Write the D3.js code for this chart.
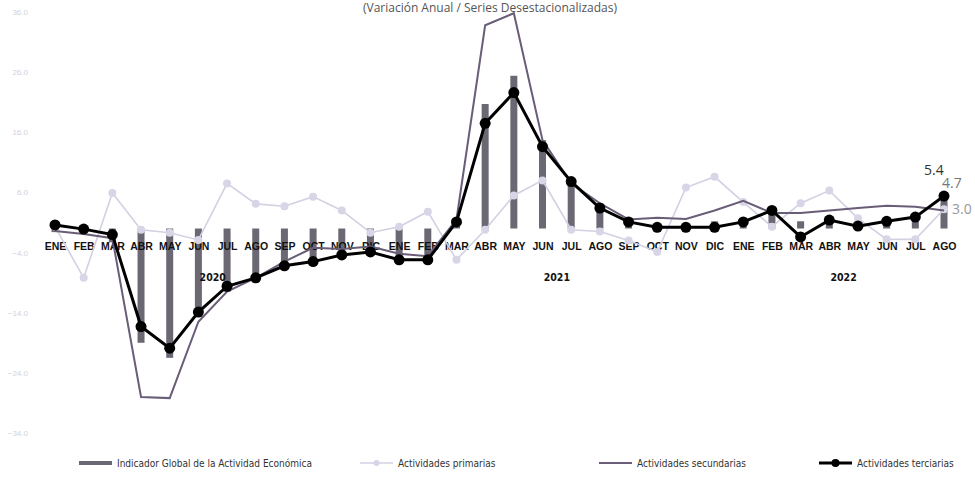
<!DOCTYPE html>
<html>
<head>
<meta charset="utf-8">
<script src="https://cdn.jsdelivr.net/npm/d3@7"></script>
<style>
  body { margin: 0; background: #fff; }
  svg { display: block; font-family: 'Liberation Sans Narrow', 'DejaVu Sans Condensed', sans-serif; }
</style>
</head>
<body>
<div class="chart"></div>
<script>
// meses ENE 2020 - AGO 2022
const meses = ["ENE","FEB","MAR","ABR","MAY","JUN","JUL","AGO","SEP","OCT","NOV","DIC",
               "ENE","FEB","MAR","ABR","MAY","JUN","JUL","AGO","SEP","OCT","NOV","DIC",
               "ENE","FEB","MAR","ABR","MAY","JUN","JUL","AGO"];
const anios = [{ label: "2020", from: 0, to: 11 }, { label: "2021", from: 12, to: 23 }, { label: "2022", from: 24, to: 31 }];

const igae = [-0.6, -0.3, -2.3, -19.0, -21.5, -14.7, -10.5, -9.0, -6.9, -5.6, -4.6, -3.6,
              -4.9, -4.8, 1.0, 20.7, 25.4, 14.7, 8.0, 4.2, 1.0, 0.6, 0.9, 1.2,
              1.6, 2.6, 1.2, 1.7, 1.2, 1.8, 2.0, 4.7];
const primarias = [0.3, -8.2, 5.9, -0.2, -0.7, -1.9, 7.5, 4.1, 3.7, 5.3, 3.0, -0.7,
                   0.3, 2.8, -5.2, -0.2, 5.5, 8.0, -0.2, -0.5, -2.0, -3.9, 6.8, 8.6,
                   4.4, 0.3, 4.2, 6.3, 1.7, -1.8, -1.8, 3.2];
const secundarias = [-0.4, -0.9, -1.6, -28.0, -28.2, -15.5, -10.5, -8.2, -5.5, -3.2, -3.4, -3.0,
                     -4.2, -4.6, 1.5, 33.8, 35.8, 14.7, 7.5, 4.2, 1.5, 1.8, 1.6, 3.0,
                     4.6, 2.6, 2.6, 3.0, 3.4, 3.8, 3.6, 3.0];
const terciarias = [0.6, -0.1, -1.0, -16.3, -19.9, -13.9, -9.6, -8.2, -6.2, -5.5, -4.4, -3.9,
                    -5.2, -5.2, 1.1, 17.5, 22.6, 13.6, 7.8, 3.4, 1.1, 0.2, 0.2, 0.2,
                    1.1, 3.0, -1.4, 1.4, 0.4, 1.2, 1.9, 5.4];
const yTicks = [-34, -24, -14, -4, 6, 16, 26, 36];

const width = 975, height = 478;
const svg = d3.select(".chart").append("svg")
    .attr("width", width)
    .attr("height", height);

const keys = meses.map((m, i) => i);
const x = d3.scalePoint().domain(keys).range([55, 944]);
const y = d3.scaleLinear().domain([-34, 36]).range([433, 12]);

// titulo
svg.append("text")
    .attr("x", 490).attr("y", 12)
    .attr("text-anchor", "middle")
    .attr("font-family", "'Open Sans', sans-serif")
    .attr("font-size", 12)
    .attr("fill", "#555")
    .text("(Variación Anual / Series Desestacionalizadas)");

// eje y (etiquetas muy tenues)
const yAxis = svg.append("g")
    .attr("transform", "translate(30,0)")
    .call(d3.axisLeft(y).tickValues(yTicks).tickSize(0).tickPadding(2).tickFormat(d3.format(".1f")));
yAxis.select(".domain").remove();
yAxis.selectAll("text").attr("fill", "#d2d2d8").attr("font-size", 8);

// barras IGAE
svg.selectAll(".bar")
    .data(igae)
    .enter()
    .append("rect")
    .attr("class", "bar")
    .attr("x", (d, i) => x(i) - 3.5)
    .attr("y", d => y(Math.max(0, d)))
    .attr("width", 7)
    .attr("height", d => Math.abs(y(d) - y(0)))
    .attr("fill", "#6c6873");

// meses sobre el eje
const xAxis = svg.append("g")
    .attr("transform", `translate(0,${y(0)})`)
    .call(d3.axisBottom(x).tickSize(0).tickPadding(14).tickFormat(i => meses[i]));
xAxis.select(".domain").remove();
xAxis.selectAll("text")
    .attr("font-size", 10.5)
    .attr("font-weight", "bold")
    .attr("fill", "#111");

// años
svg.selectAll(".anio")
    .data(anios)
    .enter()
    .append("text")
    .attr("class", "anio")
    .attr("x", d => (x(d.from) + x(d.to)) / 2)
    .attr("y", 281)
    .attr("text-anchor", "middle")
    .attr("font-size", 10.5)
    .attr("font-weight", "bold")
    .attr("fill", "#111")
    .text(d => d.label);

const line = d3.line().x((d, i) => x(i)).y(d => y(d));

// primarias
svg.append("path")
    .datum(primarias)
    .attr("d", line)
    .attr("fill", "none")
    .attr("stroke", "#d3d0e3")
    .attr("stroke-width", 1.6);
svg.selectAll(".prim")
    .data(primarias)
    .enter()
    .append("circle")
    .attr("class", "prim")
    .attr("cx", (d, i) => x(i))
    .attr("cy", d => y(d))
    .attr("r", 4)
    .attr("fill", "#d8d5e6");

// secundarias
svg.append("path")
    .datum(secundarias)
    .attr("d", line)
    .attr("fill", "none")
    .attr("stroke", "#695d77")
    .attr("stroke-width", 2);

// terciarias
svg.append("path")
    .datum(terciarias)
    .attr("d", line)
    .attr("fill", "none")
    .attr("stroke", "#000")
    .attr("stroke-width", 3);
svg.selectAll(".terc")
    .data(terciarias)
    .enter()
    .append("circle")
    .attr("class", "terc")
    .attr("cx", (d, i) => x(i))
    .attr("cy", d => y(d))
    .attr("r", 5.5)
    .attr("fill", "#000");

// etiquetas del ultimo dato
const last = meses.length - 1;
const etiquetas = [
    { v: terciarias[last], dx: -20, dy: -21, color: "#333" },
    { v: igae[last], dx: -2, dy: -12, color: "#777" },
    { v: secundarias[last], dx: 8, dy: 4, color: "#999" }
];
svg.selectAll(".etq")
    .data(etiquetas)
    .enter()
    .append("text")
    .attr("class", "etq")
    .attr("x", d => x(last) + d.dx)
    .attr("y", d => y(d.v) + d.dy)
    .attr("font-family", "'Open Sans', sans-serif")
    .attr("font-size", 14)
    .attr("fill", d => d.color)
    .text(d => d3.format(".1f")(d.v));

// leyenda
const legend = [
    { name: "Indicador Global de la Actividad Económica", x: 79, type: "bar" },
    { name: "Actividades primarias", x: 360, type: "prim" },
    { name: "Actividades secundarias", x: 599, type: "sec" },
    { name: "Actividades terciarias", x: 819, type: "terc" }
];
const ly = 463;
const lg = svg.selectAll(".leg")
    .data(legend)
    .enter()
    .append("g")
    .attr("class", "leg")
    .attr("transform", d => `translate(${d.x},${ly})`);

lg.append("line")
    .attr("x1", 0).attr("x2", 33)
    .attr("stroke", d => d.type == "bar" ? "#6c6873" : d.type == "prim" ? "#d3d0e3" : d.type == "sec" ? "#695d77" : "#000")
    .attr("stroke-width", d => d.type == "bar" ? 4 : d.type == "prim" ? 1.6 : d.type == "sec" ? 2 : 3);
lg.filter(d => d.type == "prim" || d.type == "terc")
    .append("circle")
    .attr("cx", 16.5)
    .attr("r", d => d.type == "prim" ? 3 : 4)
    .attr("fill", d => d.type == "prim" ? "#d8d5e6" : "#000");
lg.append("text")
    .attr("x", 38)
    .attr("y", 3.5)
    .attr("font-size", 10)
    .attr("fill", "#333")
    .text(d => d.name);
</script>
</body>
</html>
